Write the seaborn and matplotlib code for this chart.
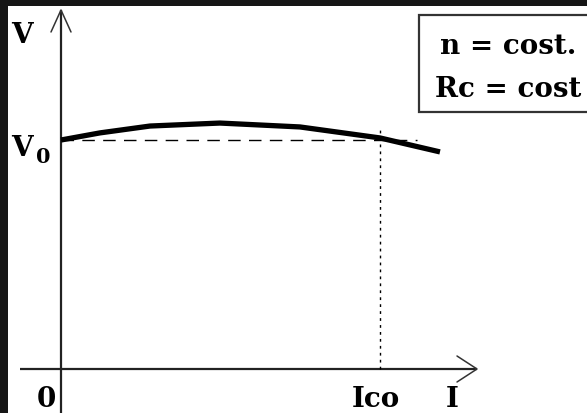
import matplotlib
matplotlib.use("Agg")
import matplotlib.pyplot as plt
import seaborn as sns
import pandas as pd
from matplotlib.patches import Rectangle

# ---- data (I normalised so Ico = 1, V normalised so V0 = 1) ----
current = [0.0, 0.122, 0.279, 0.498, 0.749, 1.0, 1.188]
voltage = [1.0, 1.031, 1.061, 1.074, 1.057, 1.009, 0.948]
I_CO = 1.0
V_0 = 1.0
box_lines = ["n = cost.", "Rc = cost"]
axis_labels = {"V": "V", "I": "I", "origin": "0", "Ico": "Ico"}

sns.set_style("white")
plt.rcParams["font.family"] = ["DejaVu Serif"]
plt.rcParams["font.weight"] = "bold"
plt.rcParams["text.color"] = "black"

W, H = 587, 414
fig = plt.figure(figsize=(W / 100, H / 100), dpi=100)
fig.patch.set_facecolor("#161616")

# white canvas area
left_px, top_px = 8, 7
ax = fig.add_axes([left_px / W, 0, (W - left_px) / W, (H - top_px) / H])
ax.set_facecolor("white")
for s in ax.spines.values():
    s.set_visible(False)
ax.set_xticks([])
ax.set_yticks([])

# pixel -> data mapping: I=0 at x=61px, Ico at 380px ; V=0 at y=370px, V0 at 141px
px_per_I = 319.0
px_per_V = 229.0
x0_px, y0_px = 61.0, 370.0
ax.set_xlim((left_px - x0_px) / px_per_I, (W - x0_px) / px_per_I)
ax.set_ylim((y0_px - H) / px_per_V, (y0_px - top_px) / px_per_V)

xmin, xmax = ax.get_xlim()
ymin, ymax = ax.get_ylim()

# axes
y_tip = (y0_px - 11) / px_per_V
x_tip = (477 - x0_px) / px_per_I
x_start = (20 - x0_px) / px_per_I
ax.plot([0, 0], [ymin, y_tip], color="#222222", lw=1.6, solid_capstyle="butt")
ax.plot([x_start, x_tip], [0, 0], color="#222222", lw=1.6, solid_capstyle="butt")
# arrow barbs
bx = 10 / px_per_I
by = 22 / px_per_V
ax.plot([-bx, 0, bx], [y_tip - by, y_tip, y_tip - by], color="#333333", lw=1.1)
bx2 = 20 / px_per_I
by2 = 13 / px_per_V
ax.plot([x_tip - bx2, x_tip, x_tip - bx2], [by2, 0, -by2], color="#333333", lw=1.1)

# V0 dashed and Ico dotted
ax.plot([0, (417 - x0_px) / px_per_I], [V_0, V_0], color="black", lw=1.0,
        dashes=(9, 6))
ax.plot([I_CO, I_CO], [0, (y0_px - 130) / px_per_V], color="black", lw=1.0,
        dashes=(2, 3))

# curve
df = pd.DataFrame({"I": current, "V": voltage})
sns.lineplot(data=df, x="I", y="V", ax=ax, color="black", lw=3.8, sort=False,
             solid_capstyle="butt")
ax.set_xlabel("")
ax.set_ylabel("")

fs = 20

def ftext(x, y, s, **kw):
    fig.text(x / W, 1 - y / H, s, fontsize=kw.pop("fontsize", fs),
             fontweight="bold", color="black", **kw)

ftext(11, 43, axis_labels["V"], ha="left", va="baseline")
ftext(11, 156, "V", ha="left", va="baseline")
ftext(36, 163, "0", ha="left", va="baseline", fontsize=15)
ftext(37, 407, axis_labels["origin"], ha="left", va="baseline")
ftext(352, 407, axis_labels["Ico"], ha="left", va="baseline")
ftext(446, 407, axis_labels["I"], ha="left", va="baseline")

# box
fig.patches.append(Rectangle((419 / W, 1 - 113 / H), (W - 419 + 5) / W, 97 / H,
                             transform=fig.transFigure, facecolor="white",
                             edgecolor="#333333", lw=1.6, zorder=5))
ftext(508, 54, box_lines[0], ha="center", va="baseline", zorder=6)
ftext(508, 97, box_lines[1], ha="center", va="baseline", zorder=6)

fig.savefig("out.png", dpi=100, facecolor=fig.get_facecolor())
